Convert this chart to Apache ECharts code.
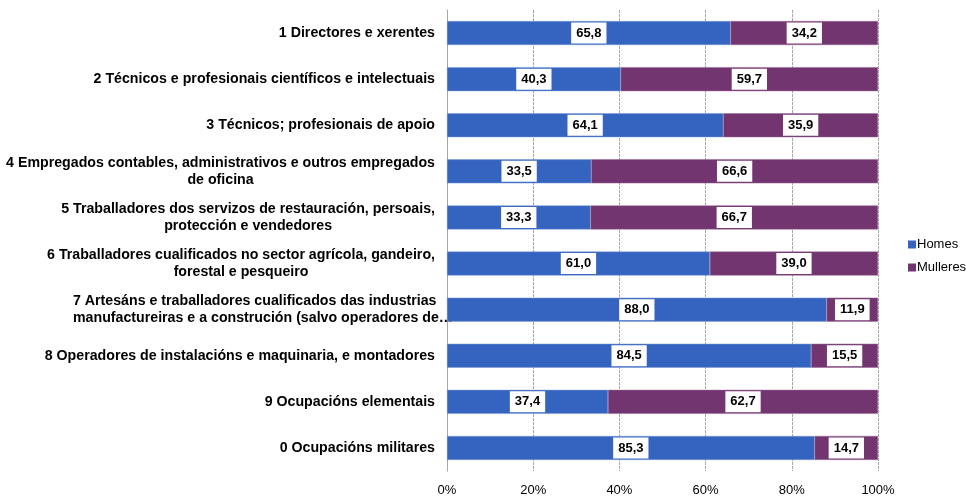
<!DOCTYPE html>
<html>
<head>
<meta charset="utf-8">
<script src="https://cdn.jsdelivr.net/npm/echarts@6/dist/echarts.min.js"></script>
<style>
  html, body { margin: 0; padding: 0; background: #fff; }
  #main { width: 966px; height: 497px; }
</style>
</head>
<body>
<div id="main"></div>
<script>
const categories = [
  '1 Directores e xerentes',
  '2 Técnicos e profesionais científicos e intelectuais',
  '3 Técnicos; profesionais de apoio',
  '4 Empregados contables, administrativos e outros empregados\nde oficina',
  '5 Traballadores dos servizos de restauración, persoais,\nprotección e vendedores',
  '6 Traballadores cualificados no sector agrícola, gandeiro,\nforestal e pesqueiro',
  '7 Artesáns e traballadores cualificados das industrias\nmanufactureiras e a construción (salvo operadores de…',
  '8 Operadores de instalacións e maquinaria, e montadores',
  '9 Ocupacións elementais',
  '0 Ocupacións militares'
];
const homes = [65.8, 40.3, 64.1, 33.5, 33.3, 61.0, 88.0, 84.5, 37.4, 85.3];
const mulleres = [34.2, 59.7, 35.9, 66.6, 66.7, 39.0, 11.9, 15.5, 62.7, 14.7];
const tickLabels = ['0%', '20%', '40%', '60%', '80%', '100%'];

const myChart = echarts.init(document.querySelector('#main'));

// 100% stacked: bar length is the share of the row total, label shows the raw value
const share = (arr, i) => arr[i] / (homes[i] + mulleres[i]) * 100;
const toData = arr => arr.map((v, i) => ({ value: share(arr, i), raw: v }));

const labelStyle = {
  show: true,
  position: 'inside',
  formatter: p => p.data.raw.toFixed(1).replace('.', ','),
  backgroundColor: '#fff',
  padding: [4, 5, 4, 5],
  color: '#000',
  fontWeight: 'bold',
  fontSize: 13,
  fontFamily: 'Liberation Sans, Arial, sans-serif'
};

const catFont = { fontSize: 14.2, fontWeight: 'bold', color: '#000', lineHeight: 17 };

const option = {
  animation: false,
  textStyle: { fontFamily: 'Liberation Sans, Arial, sans-serif' },
  grid: { left: 447, right: 88, top: 10, bottom: 20 },
  legend: {
    orient: 'vertical',
    left: 903,
    top: 233,
    itemWidth: 8,
    itemHeight: 8,
    itemGap: 10,
    icon: 'rect',
    itemStyle: { borderWidth: 0 },
    textStyle: { fontSize: 13, color: '#000', padding: [0, 0, 0, -4] },
    data: ['Homes', 'Mulleres']
  },
  xAxis: {
    type: 'value',
    min: 0,
    max: 100,
    interval: 20,
    axisLine: { show: false },
    axisTick: { show: false },
    axisLabel: {
      color: '#000',
      fontSize: 13,
      margin: 13,
      formatter: v => tickLabels[v / 20]
    },
    splitLine: { lineStyle: { color: '#a6a6a6', type: [3, 1] } }
  },
  yAxis: {
    type: 'category',
    inverse: true,
    data: categories,
    axisLine: { lineStyle: { color: '#a6a6a6' } },
    axisTick: { show: false },
    axisLabel: {
      color: '#000',
      fontSize: 14.2,
      fontWeight: 'bold',
      lineHeight: 17,
      align: 'right',
      margin: 12,
      // wrapped labels: lines centred, except the truncated one which is left-aligned
      formatter: (value, i) => {
        const lines = value.split('\n');
        if (lines.length === 1) return value;
        const tag = value.endsWith('…') ? 'l' : 'c';
        return lines.map(l => '{' + tag + '|' + l + '}').join('\n');
      },
      rich: {
        c: Object.assign({ align: 'center' }, catFont),
        l: Object.assign({ align: 'left', width: 362 }, catFont)
      }
    }
  },
  series: [
    {
      name: 'Homes',
      type: 'bar',
      stack: 'total',
      barWidth: 24,
      itemStyle: { color: '#3564c0', borderColor: '#7f9bd6', borderWidth: 0.5 },
      label: labelStyle,
      data: toData(homes)
    },
    {
      name: 'Mulleres',
      type: 'bar',
      stack: 'total',
      barWidth: 24,
      itemStyle: { color: '#72356f', borderColor: '#9a6a98', borderWidth: 0.5 },
      label: labelStyle,
      data: toData(mulleres)
    }
  ]
};
option && myChart.setOption(option);
</script>
</body>
</html>
